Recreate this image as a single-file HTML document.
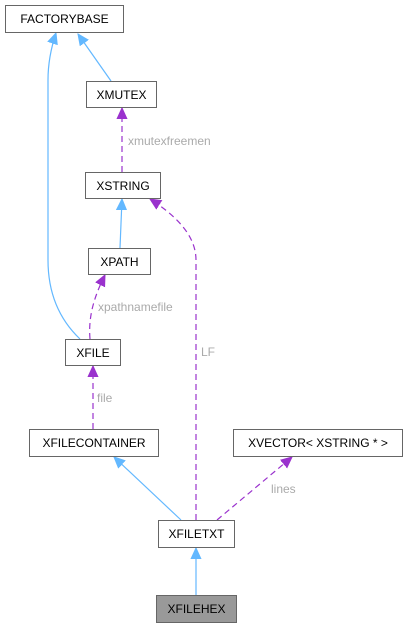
<!DOCTYPE html>
<html><head><style>
body{margin:0;background:#fff;}
svg text{font-family:"Liberation Sans",sans-serif;font-size:12px;}
</style></head><body>
<svg width="407" height="628" viewBox="0 0 407 628" xmlns="http://www.w3.org/2000/svg">
<defs>
<marker id="b" markerWidth="12" markerHeight="12" refX="11" refY="6" orient="auto" markerUnits="userSpaceOnUse"><path d="M0,1 L11,6 L0,11 z" fill="#63b8ff" stroke="#63b8ff"/></marker>
<marker id="p" markerWidth="12" markerHeight="12" refX="11" refY="6" orient="auto" markerUnits="userSpaceOnUse"><path d="M0,1 L11,6 L0,11 z" fill="#9a32cd" stroke="#9a32cd"/></marker>
</defs>
<g fill="none" stroke-width="1.2">
<path d="M80,339 C60,320 48,295 48,260 L48,80 C48,60 52,45 56,33" stroke="#63b8ff" marker-end="url(#b)"/>
<path d="M111,81 L78,34" stroke="#63b8ff" marker-end="url(#b)"/>
<path d="M122,172 L122,108" stroke="#9a32cd" stroke-dasharray="6,4" marker-end="url(#p)"/>
<path d="M120,248 L122,199" stroke="#63b8ff" marker-end="url(#b)"/>
<path d="M90,339 C88,315 95,295 105,275" stroke="#9a32cd" stroke-dasharray="6,4" marker-end="url(#p)"/>
<path d="M93,429 L93,366" stroke="#9a32cd" stroke-dasharray="6,4" marker-end="url(#p)"/>
<path d="M181,520 L114,457" stroke="#63b8ff" marker-end="url(#b)"/>
<path d="M196,520 L196,260 C196,235 175,215 150,199" stroke="#9a32cd" stroke-dasharray="6,4" marker-end="url(#p)"/>
<path d="M217,520 L292,457" stroke="#9a32cd" stroke-dasharray="6,4" marker-end="url(#p)"/>
<path d="M196,595 L196,548" stroke="#63b8ff" marker-end="url(#b)"/>
</g>
<g stroke="#666" fill="#fff">
<rect x="5.5" y="5.5" width="118" height="27"/>
<rect x="86.5" y="81.5" width="70" height="26"/>
<rect x="85.5" y="172.5" width="75" height="26"/>
<rect x="88.5" y="248.5" width="62" height="26"/>
<rect x="65.5" y="339.5" width="55" height="26"/>
<rect x="29.5" y="429.5" width="129" height="27"/>
<rect x="233.5" y="429.5" width="169" height="27"/>
<rect x="158.5" y="520.5" width="76" height="27"/>
<rect x="156.5" y="595.5" width="80" height="27" fill="#999"/>
</g>
<g fill="#000" text-anchor="middle">
<text x="64.5" y="23">FACTORYBASE</text>
<text x="121.5" y="99">XMUTEX</text>
<text x="123" y="190">XSTRING</text>
<text x="119.5" y="266">XPATH</text>
<text x="93" y="357">XFILE</text>
<text x="94" y="447">XFILECONTAINER</text>
<text x="318" y="447">XVECTOR&lt; XSTRING * &gt;</text>
<text x="196.5" y="538">XFILETXT</text>
<text x="196.5" y="613">XFILEHEX</text>
</g>
<g fill="#aaa">
<text x="128" y="145">xmutexfreemen</text>
<text x="98" y="311">xpathnamefile</text>
<text x="97" y="402">file</text>
<text x="201" y="356">LF</text>
<text x="271" y="493">lines</text>
</g>
</svg>
</body></html>
